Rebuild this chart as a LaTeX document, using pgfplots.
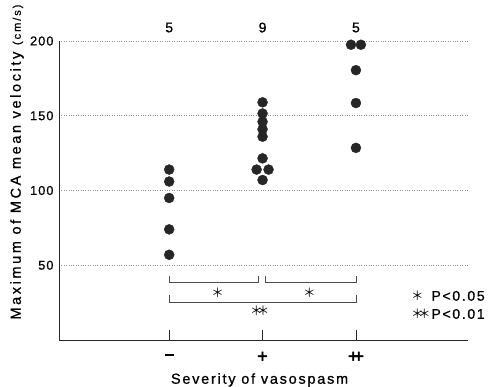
\documentclass[border=0pt]{standalone}
\usepackage{pgfplots}
\pgfplotsset{compat=1.18}
\usepackage{fontspec}
\setmainfont{Liberation Sans}[LetterSpace=12, FakeBold=0.8]
\newfontfamily\ylfont{Liberation Sans}[LetterSpace=18, FakeBold=0.8]
\newfontfamily\tickfont{Liberation Sans}[LetterSpace=8, FakeBold=0.8]
\newfontfamily\plusfont{Liberation Sans}[FakeBold=2.5]
\newfontfamily\cjk{Noto Sans CJK JP}
\newcommand{\st}{{\cjk ＊}}
\newcommand{\fs}[1]{\fontsize{#1}{#1}\selectfont}
\begin{document}
\begin{tikzpicture}
\begin{axis}[name=ax, at={(0,0)}, anchor=south west,
  scale only axis, width=409bp, height=299bp,
  xmin=-1.18, xmax=3.2, ymin=0, ymax=200,
  axis x line=bottom, axis y line=left,
  axis line style={-, line width=0.9bp, black!85},
  xtick={0,1,2},
  xticklabels={{\raisebox{4.5bp}{\rule{9bp}{2bp}}},{\plusfont\fs{18bp}+},{\plusfont\fs{18bp}\rlap{+}\kern0.3em+}},
  ytick={50,100,150,200},
  ymajorgrids,
  major grid style={gray!90, dash pattern=on 0.8bp off 1.6bp, line width=0.6bp},
  xtick style={black!85, line width=0.8bp},
  ytick style={draw=none},
  major tick length=10bp, tick align=inside,
  clip=false,
  /pgf/number format/assume math mode=true,
  yticklabel style={font=\tickfont\fs{12.8bp}, anchor=east, xshift=-2bp},
  xticklabel style={anchor=center, yshift=-17bp},
]
\addplot[only marks, mark=*, mark size=5bp, mark options={fill=black!85, draw=black!85}]
  coordinates {
  (0,114) (0,106) (0,95) (0,74) (0,57)
  (1,159) (1,151.5) (1,146) (1,141) (1,136) (1,121.5) (0.936,114) (1.064,114) (1,107)
  (1.947,197.5) (2.053,197.5) (2,180.5) (2,158.5) (2,128.5)
  };
\addplot[black!70, line width=0.7bp, mark=none] coordinates {(0,43) (0,38.3) (0.957,38.3) (0.957,43)};
\addplot[black!70, line width=0.7bp, mark=none] coordinates {(1.03,43) (1.03,38.3) (2,38.3) (2,43)};
\addplot[black!70, line width=0.7bp, mark=none] coordinates {(0,30.2) (0,25.5) (2,25.5) (2,30.2)};
\node[font=\fs{14bp}] at (axis cs:0,209) {5};
\node[font=\fs{14bp}] at (axis cs:1,209) {9};
\node[font=\fs{14bp}] at (axis cs:2,209) {5};
\node[font=\fs{12.5bp}] at (axis cs:0.52,31.5) {\st};
\node[font=\fs{12.5bp}] at (axis cs:1.5,31.5) {\st};
\node[font=\fs{12.5bp}] at (axis cs:0.97,19.5) {\st\kern-0.45em\st};
\node[font=\fs{12.5bp}, anchor=west, inner sep=0pt] at (axis cs:2.59,29.5) {\st};
\node[font=\fs{12.5bp}, anchor=west, inner sep=0pt] at (axis cs:2.59,17.4) {\st\kern-0.45em\st};
\node[font=\fs{14bp}, anchor=west, inner sep=0pt] at (axis cs:2.807,29.5) {P<0.05};
\node[font=\fs{14bp}, anchor=west, inner sep=0pt] at (axis cs:2.807,17.4) {P<0.01};
\node[font=\fs{14.5bp}] at ([yshift=-40bp]axis cs:0.968,0) {Severity of vasospasm};
\node[font=\ylfont\fs{14.5bp}, rotate=90] at ([xshift=-42bp]rel axis cs:0,0.595) {Maximum of MCA mean velocity {\fs{11bp}(cm/s)}};
\end{axis}
\pgfresetboundingbox
\path ([shift={(-59bp,-47bp)}]ax.south west) rectangle ([shift={(22bp,41bp)}]ax.north east);
\end{tikzpicture}
\end{document}
